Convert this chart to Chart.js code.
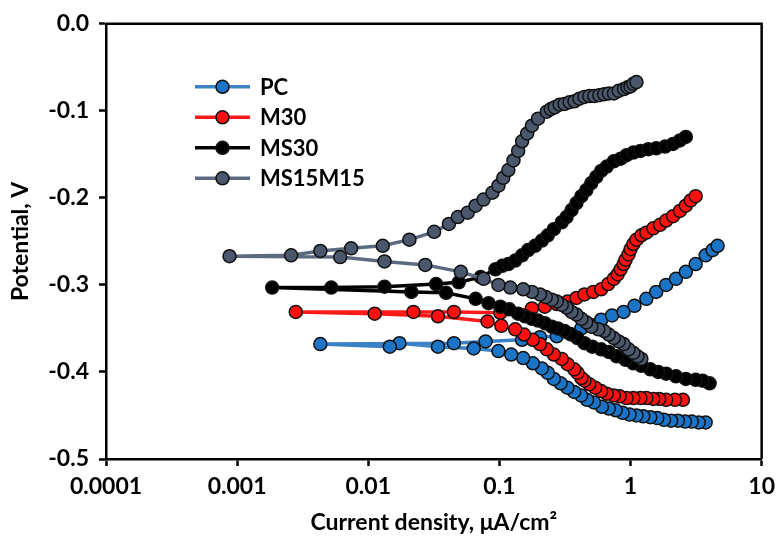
<!DOCTYPE html>
<html>
<head>
<meta charset="utf-8">
<script src="https://cdn.jsdelivr.net/npm/chart.js@4/dist/chart.umd.min.js"></script>
<style>
  html, body { margin: 0; padding: 0; background: #fff; }
  #wrap { width: 782px; height: 540px; }
</style>
</head>
<body>
<div id="wrap"><canvas id="myChart" width="782" height="540"></canvas></div>
<script>
// current density (uA/cm2) and potential (V)
// (cathodic branch from its far end in to Ecorr, then the anodic branch outwards)
const seriesNames = ["PC", "M30", "MS30", "MS15M15"];
const xTicks = [0.0001, 0.001, 0.01, 0.1, 1, 10];
const xTickLabels = ["0.0001", "0.001", "0.01", "0.1", "1", "10"];

const pcCurrent = [3.74, 3.31, 2.93, 2.6, 2.3, 2.04, 1.8, 1.6, 1.415, 1.25, 1.11, 0.983, 0.87, 0.771, 0.683, 0.605, 0.526, 0.466, 0.42, 0.372, 0.33, 0.293, 0.26, 0.234, 0.211, 0.18, 0.152, 0.123, 0.0983, 0.0637, 0.034, 0.0173, 0.0146, 0.00431,
  0.045, 0.0784, 0.149, 0.204, 0.274, 0.343, 0.422, 0.502, 0.597, 0.723, 0.886, 1.072, 1.32, 1.57, 1.87, 2.22, 2.64, 3.14, 3.74, 4.22, 4.61];
const pcPotential = [-0.458, -0.458, -0.457, -0.457, -0.456, -0.456, -0.455, -0.453, -0.452, -0.451, -0.45, -0.449, -0.447, -0.444, -0.442, -0.44, -0.435, -0.432, -0.427, -0.423, -0.418, -0.413, -0.408, -0.401, -0.396, -0.39, -0.384, -0.38, -0.376, -0.373, -0.371, -0.367, -0.371, -0.368,
  -0.367, -0.365, -0.363, -0.36, -0.359, -0.356, -0.35, -0.346, -0.34, -0.335, -0.331, -0.324, -0.316, -0.308, -0.3, -0.293, -0.285, -0.276, -0.266, -0.26, -0.255];

const m30Current = [2.51, 2.18, 1.87, 1.654, 1.49, 1.32, 1.19, 1.05, 0.933, 0.826, 0.745, 0.659, 0.597, 0.538, 0.485, 0.445, 0.422, 0.394, 0.372, 0.331, 0.299, 0.26, 0.23, 0.204, 0.18, 0.154, 0.132, 0.1035, 0.0812, 0.034, 0.0112, 0.0028,
  0.0221, 0.045, 0.1017, 0.177, 0.222, 0.274, 0.331, 0.387, 0.445, 0.52, 0.597, 0.675, 0.745, 0.798, 0.841, 0.886, 0.917, 0.966, 1.0, 1.05, 1.11, 1.21, 1.32, 1.49, 1.68, 1.87, 2.11, 2.38, 2.64, 2.88, 3.14];
const m30Potential = [-0.432, -0.432, -0.432, -0.431, -0.431, -0.43, -0.43, -0.43, -0.43, -0.428, -0.427, -0.425, -0.422, -0.418, -0.414, -0.41, -0.407, -0.401, -0.397, -0.391, -0.385, -0.38, -0.374, -0.368, -0.363, -0.357, -0.351, -0.347, -0.342, -0.336, -0.333, -0.331,
  -0.331, -0.331, -0.332, -0.327, -0.325, -0.322, -0.319, -0.315, -0.311, -0.308, -0.305, -0.299, -0.293, -0.288, -0.282, -0.276, -0.271, -0.265, -0.259, -0.253, -0.248, -0.243, -0.24, -0.235, -0.231, -0.226, -0.221, -0.215, -0.209, -0.203, -0.198];

const ms30Current = [4.01, 3.55, 3.14, 2.64, 2.22, 1.87, 1.625, 1.415, 1.21, 1.05, 0.917, 0.784, 0.683, 0.597, 0.511, 0.445, 0.394, 0.355, 0.314, 0.279, 0.251, 0.222, 0.197, 0.177, 0.157, 0.139, 0.119, 0.1017, 0.0826, 0.0659, 0.0392, 0.0213, 0.00185,
  0.00522, 0.0133, 0.0329, 0.049, 0.0719, 0.0933, 0.1053, 0.117, 0.132, 0.149, 0.1654, 0.187, 0.211, 0.234, 0.26, 0.299, 0.325, 0.355, 0.387, 0.422, 0.46, 0.502, 0.548, 0.597, 0.659, 0.745, 0.841, 0.933, 1.05, 1.19, 1.367, 1.57, 1.836, 2.11, 2.38, 2.64];
const ms30Potential = [-0.413, -0.41, -0.409, -0.408, -0.405, -0.402, -0.4, -0.397, -0.393, -0.39, -0.386, -0.382, -0.377, -0.374, -0.371, -0.367, -0.361, -0.357, -0.353, -0.35, -0.348, -0.344, -0.341, -0.339, -0.336, -0.333, -0.328, -0.325, -0.321, -0.316, -0.309, -0.308, -0.303,
  -0.303, -0.302, -0.299, -0.297, -0.291, -0.282, -0.278, -0.276, -0.272, -0.266, -0.26, -0.255, -0.249, -0.243, -0.236, -0.228, -0.222, -0.214, -0.206, -0.198, -0.191, -0.183, -0.176, -0.169, -0.164, -0.158, -0.155, -0.151, -0.148, -0.146, -0.144, -0.143, -0.141, -0.138, -0.134, -0.13];

const ms15Current = [1.21, 1.129, 1.05, 0.966, 0.886, 0.812, 0.745, 0.683, 0.629, 0.568, 0.502, 0.46, 0.422, 0.387, 0.355, 0.325, 0.299, 0.274, 0.251, 0.226, 0.204, 0.177, 0.152, 0.121, 0.0983, 0.0758, 0.0508, 0.0272, 0.0133, 0.00611, 0.000875,
  0.00258, 0.00431, 0.0074, 0.0129, 0.0206, 0.0318, 0.0412, 0.0482, 0.0573, 0.0658, 0.0757, 0.0885, 0.0983, 0.107, 0.117, 0.128, 0.139, 0.149, 0.163, 0.177, 0.197, 0.23, 0.2465, 0.264, 0.288, 0.314, 0.343, 0.374, 0.408, 0.445, 0.485, 0.529, 0.577, 0.629, 0.683, 0.748, 0.812, 0.891, 0.949, 1.0, 1.05, 1.11];
const ms15Potential = [-0.385, -0.382, -0.378, -0.374, -0.368, -0.365, -0.361, -0.357, -0.353, -0.351, -0.348, -0.343, -0.339, -0.334, -0.331, -0.326, -0.323, -0.319, -0.317, -0.314, -0.311, -0.308, -0.305, -0.303, -0.3, -0.293, -0.285, -0.277, -0.273, -0.268, -0.267,
  -0.266, -0.261, -0.258, -0.255, -0.248, -0.239, -0.23, -0.222, -0.217, -0.209, -0.202, -0.194, -0.186, -0.177, -0.168, -0.157, -0.146, -0.135, -0.126, -0.117, -0.109, -0.101, -0.098, -0.096, -0.093, -0.092, -0.09, -0.089, -0.086, -0.084, -0.083, -0.083, -0.082, -0.081, -0.08, -0.08, -0.077, -0.075, -0.073, -0.072, -0.069, -0.067];

const lineColors = ["#3A82C4", "#FF1A1A", "#000000", "#5C6A80"];
const fillColors = ["#1C74C6", "#FF1010", "#000000", "#4A576D"];

const toPoints = (xs, ys) => xs.map((x, i) => ({ x: x, y: ys[i] }));
const allX = [pcCurrent, m30Current, ms30Current, ms15Current];
const allY = [pcPotential, m30Potential, ms30Potential, ms15Potential];

const font = "Lato, 'Open Sans', sans-serif";

const datasets = seriesNames.map((name, i) => ({
  label: name,
  data: toPoints(allX[i], allY[i]),
  showLine: true,
  borderColor: lineColors[i],
  borderWidth: 3.5,
  pointRadius: 6.5,
  pointBorderWidth: 1.5,
  pointBorderColor: "#111",
  pointBackgroundColor: fillColors[i],
  order: 3 - i,
}));

// box around the plot + the legend in its top-left corner
const framePlugin = {
  id: "frame",
  afterDraw(chart) {
    const { ctx, chartArea: a } = chart;
    ctx.save();
    ctx.strokeStyle = "#000";
    ctx.lineWidth = 2.5;
    ctx.beginPath();
    ctx.moveTo(a.left, a.top);
    ctx.lineTo(a.right, a.top);
    ctx.lineTo(a.right, a.bottom);
    ctx.stroke();

    ctx.font = "bold 22px " + font;
    ctx.textBaseline = "middle";
    seriesNames.forEach((name, i) => {
      const y = a.top + 63 + i * 30.5;
      const x0 = a.left + 89;
      ctx.strokeStyle = lineColors[i];
      ctx.lineWidth = 3.5;
      ctx.beginPath();
      ctx.moveTo(x0, y);
      ctx.lineTo(x0 + 55, y);
      ctx.stroke();
      ctx.beginPath();
      ctx.arc(x0 + 27.5, y, 6.5, 0, Math.PI * 2);
      ctx.fillStyle = fillColors[i];
      ctx.fill();
      ctx.lineWidth = 1.5;
      ctx.strokeStyle = "#111";
      ctx.stroke();
      ctx.fillStyle = "#000";
      ctx.fillText(name, x0 + 65, y + 1);
    });
    ctx.restore();
  },
};

const ctx = document.getElementById("myChart");
const chart = new Chart(ctx, {
  type: "scatter",
  data: { datasets: datasets },
  options: {
    responsive: false,
    animation: false,
    layout: { padding: { top: 19, right: 13, left: 0, bottom: 0 } },
    plugins: {
      legend: { display: false },
      tooltip: { enabled: false },
    },
    scales: {
      x: {
        type: "logarithmic",
        min: 0.0001,
        max: 10,
        afterBuildTicks: (scale) => {
          scale.ticks = xTicks.map((v) => ({ value: v }));
        },
        afterFit: (scale) => {
          scale.height = 81;
        },
        border: { color: "#000", width: 2.5 },
        grid: { drawOnChartArea: false, drawTicks: true, tickLength: 7, tickColor: "#000", tickWidth: 2.5 },
        ticks: {
          color: "#000",
          font: { family: font, size: 23, weight: "bold" },
          padding: 7,
          maxRotation: 0,
          autoSkip: false,
          callback: (value) => {
            const idx = xTicks.findIndex((t) => Math.abs(t - value) / t < 1e-6);
            return idx >= 0 ? xTickLabels[idx] : "";
          },
        },
        title: {
          display: true,
          text: "Current density, μA/cm²",
          color: "#000",
          font: { family: font, size: 23, weight: "bold" },
          padding: { top: 0, bottom: 4 },
        },
      },
      y: {
        type: "linear",
        min: -0.5,
        max: 0,
        afterFit: (scale) => {
          scale.width = 106;
        },
        border: { color: "#000", width: 2.5 },
        grid: { drawOnChartArea: false, drawTicks: true, tickLength: 7, tickColor: "#000", tickWidth: 2.5 },
        ticks: {
          stepSize: 0.1,
          color: "#000",
          font: { family: font, size: 23, weight: "bold" },
          padding: 10,
          callback: (value) => value.toFixed(1),
        },
        title: {
          display: true,
          text: "Potential, V",
          color: "#000",
          font: { family: font, size: 23, weight: "bold" },
          padding: { top: 7, bottom: 0 },
        },
      },
    },
  },
  plugins: [framePlugin],
});
</script>
</body>
</html>
